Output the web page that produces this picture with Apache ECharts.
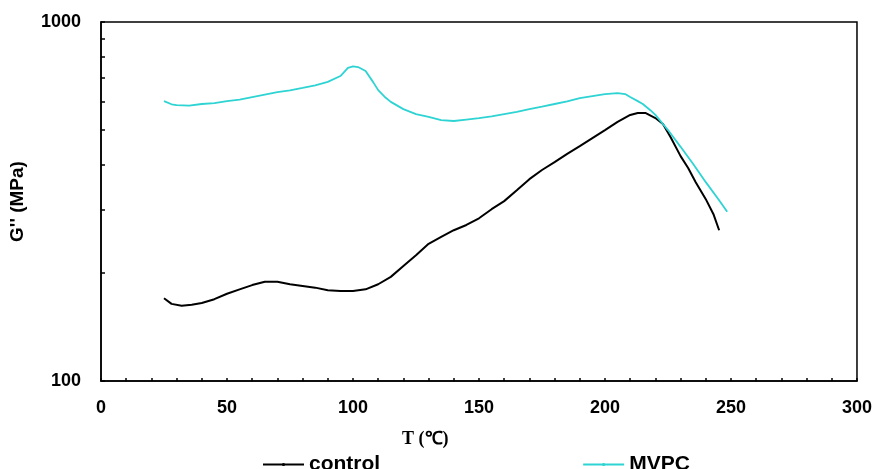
<!DOCTYPE html>
<html>
<head>
<meta charset="utf-8">
<script src="https://cdn.jsdelivr.net/npm/echarts@6/dist/echarts.min.js"></script>
<style>
html,body{margin:0;padding:0;background:#fff;}
#chart{width:875px;height:469px;}
</style>
</head>
<body>
<div id="chart"></div>
<script>
const controlT = [25,28,32,36,40,45,50,55,60,65,70,75,80,85,90,95,100,105,110,115,120,125,130,135,140,145,150,155,160,165,170,175,180,185,190,195,200,205,210,213,216,220,223,226,230,233,236,240,243,245.3];
const controlG = [170,164,162,163,165,169,175,180,185,189,189,186,184,182,179,178,178,180,186,195,209,224,241,252,263,272,284,301,317,340,365,387,407,429,451,475,500,527,551,558,558,540,520,478,423,392,358,321,292,263];
const mvpcT = [25,28,30,35,40,45,50,55,60,65,70,75,80,85,90,95,98,100,102,105,108,110,113,115,120,125,130,135,140,145,150,155,160,165,170,175,180,185,190,195,200,205,208,210,213,215,218,220,225,230,235,240,245,248.5];
const mvpcG = [602,590,587,585,591,594,602,608,618,628,638,645,655,666,681,707,745,752,749,730,680,646,615,599,572,554,544,533,530,535,540,546,554,562,572,581,591,601,614,622,630,634,630,618,602,591,568,551,500,449,402,358,321,296];
const xTicks = [0,10,20,30,40,50,60,70,80,90,100,110,120,130,140,150,160,170,180,190,200,210,220,230,240,250,260,270,280,290,300];
const yTicks = [100,200,300,400,500,600,700,800,900,1000];
const yLabels = [100,1000];

const chart = echarts.init(document.getElementById('chart'));
const lab = {color:'#000', fontFamily:'Arial, "Liberation Sans", sans-serif', fontWeight:'bold', fontSize:18};
chart.setOption({
  animation:false,
  backgroundColor:'#fff',
  grid:{left:99, right:13, top:22, bottom:88, show:true, borderColor:'#000', borderWidth:1.5, backgroundColor:'transparent'},
  legend:{
    left:257, top:449, itemGap:202, itemWidth:41, itemHeight:4,
    textStyle:{color:'#000', fontFamily:'Arial, "Liberation Sans", sans-serif', fontWeight:'bold', fontSize:21},
    data:['control','MVPC']
  },
  graphic:[{type:'text', left:402, top:430, style:{text:'T (\u2103)', fill:'#000', font:'bold 18px "Liberation Serif", "Times New Roman", serif'}}],
  xAxis:{
    type:'value', min:0, max:300, interval:50,
    axisLine:{show:true, onZero:false, lineStyle:{color:'#000', width:1.5}},
    axisTick:{show:true, inside:true, length:3, customValues:xTicks, lineStyle:{color:'#000', width:1.5}},
    axisLabel:Object.assign({margin:18}, lab),
    splitLine:{show:false}
  },
  yAxis:{
    type:'log', logBase:10, min:100, max:1000,
    name:"G'' (MPa)", nameLocation:'middle', nameGap:74, nameRotate:90,
    nameTextStyle:{color:'#000', fontFamily:'Arial, "Liberation Sans", sans-serif', fontWeight:'bold', fontSize:19},
    axisLine:{show:true, lineStyle:{color:'#000', width:1.5}},
    axisTick:{show:true, inside:true, length:4, customValues:yTicks, lineStyle:{color:'#000', width:1.5}},
    axisLabel:Object.assign({margin:20, customValues:yLabels, formatter:function(v){return String(Math.round(v));}}, lab),
    splitLine:{show:false}
  },
  series:[
    {name:'control', type:'line', data:controlT.map((t,i)=>[t,controlG[i]]), showSymbol:false, symbol:'circle', symbolSize:3,
     itemStyle:{color:'#000'}, lineStyle:{color:'#000', width:2}},
    {name:'MVPC', type:'line', data:mvpcT.map((t,i)=>[t,mvpcG[i]]), showSymbol:false, symbol:'circle', symbolSize:3,
     itemStyle:{color:'#2ED3D3'}, lineStyle:{color:'#2ED3D3', width:1.8}}
  ]
});
</script>
</body>
</html>
